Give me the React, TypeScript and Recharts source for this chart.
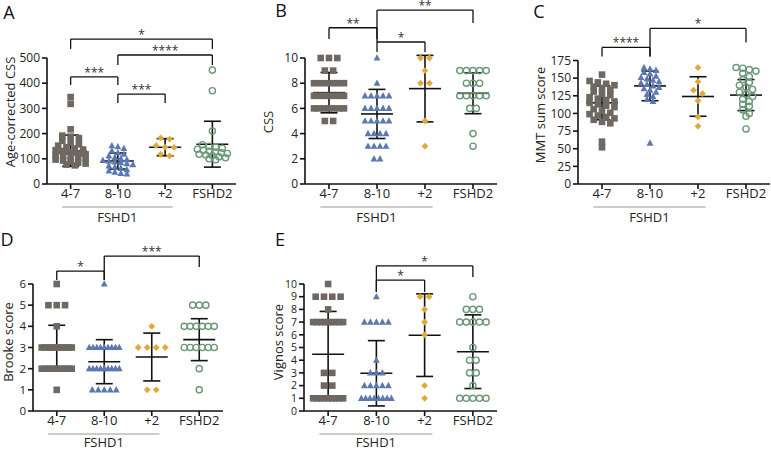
import React from "react";
import { ScatterChart, Scatter, XAxis, YAxis, ReferenceLine } from "recharts";

const groups = ["4-7", "8-10", "+2", "FSHD2"];

// A: age-corrected CSS
const aRepeat47 = [345, 318, 217, 192, 188, 182, 172, 165, 158, 152, 146, 141, 137, 134, 131, 128, 125, 121, 118, 115, 112, 109, 105, 101, 97, 93, 89, 85, 81, 77, 74];
const aRepeat810 = [152, 148, 141, 132, 124, 118, 112, 106, 101, 97, 94, 91, 88, 85, 81, 77, 72, 67, 62, 57, 52, 47, 42, 40];
const aPlus2 = [183, 178, 152, 146, 145, 118, 112];
const aFshd2 = [452, 370, 210, 156, 150, 146, 142, 138, 134, 130, 127, 124, 121, 118, 115, 112, 108, 104, 100, 96];
const aMean = [132, 91, 146, 158];
const aSd = [62, 32, 34, 91];

// B: CSS
const bRepeat47 = [10, 10, 10, 9, 9, 8, 8, 8, 8, 8, 8, 7, 7, 7, 7, 7, 7, 7, 7, 6, 6, 6, 6, 6, 6, 6, 5, 5];
const bRepeat810 = [10, 8, 7, 7, 7, 7, 7, 6, 6, 6, 6, 6, 5, 5, 5, 5, 5, 4, 4, 4, 4, 3, 3, 3, 3, 2, 2];
const bPlus2 = [10, 10, 9, 8, 8, 5, 3];
const bFshd2 = [9, 9, 9, 9, 9, 8, 8, 8, 7, 7, 7, 7, 7, 6, 6, 4, 3];
const bMean = [7.25, 5.56, 7.57, 7.2];
const bSd = [1.6, 1.95, 2.64, 1.62];

// C: MMT sum score
const cRepeat47 = [155, 146, 144, 142, 140, 138, 136, 133, 131, 128, 126, 123, 121, 119, 117, 115, 113, 111, 109, 106, 104, 101, 99, 97, 95, 93, 91, 88, 86, 60, 52];
const cRepeat810 = [165, 163, 161, 158, 156, 153, 151, 149, 147, 145, 143, 141, 139, 137, 135, 133, 130, 127, 124, 120, 117, 58];
const cPlus2 = [165, 145, 133, 128, 118, 95, 82];
const cFshd2 = [165, 164, 162, 160, 157, 152, 148, 144, 140, 137, 134, 130, 127, 124, 120, 117, 113, 110, 105, 100, 96, 78];
const cMean = [115, 139, 124, 126];
const cSd = [24, 21, 28, 22];

// D: Brooke score
const dRepeat47 = [6, 5, 5, 5, 4, 3, 3, 3, 3, 3, 3, 3, 3, 3, 3, 2, 2, 2, 2, 2, 2, 2, 2, 2, 1];
const dRepeat810 = [6, 3, 3, 3, 3, 3, 3, 3, 3, 3, 2, 2, 2, 2, 2, 2, 2, 2, 2, 1, 1, 1, 1, 1];
const dPlus2 = [4, 3, 3, 3, 3, 1, 1];
const dFshd2 = [5, 5, 5, 4, 4, 4, 4, 4, 4, 3, 3, 3, 3, 3, 3, 2, 1];
const dMean = [3.0, 2.33, 2.55, 3.37];
const dSd = [1.05, 1.04, 1.13, 0.99];

// E: Vignos score
const eRepeat47 = [10, 9, 9, 9, 9, 8, 7, 7, 7, 7, 7, 7, 7, 7, 7, 3, 3, 2, 2, 1, 1, 1, 1, 1, 1, 1, 1, 1];
const eRepeat810 = [9, 7, 7, 7, 7, 7, 4, 3, 3, 3, 2, 2, 2, 2, 2, 1, 1, 1, 1, 1, 1, 1, 1];
const ePlus2 = [9, 9, 8, 7, 6, 2, 1];
const eFshd2 = [9, 8, 8, 8, 7, 7, 7, 7, 7, 5, 4, 4, 3, 3, 2, 1, 1, 1, 1, 1];
const eMean = [4.47, 2.97, 5.97, 4.67];
const eSd = [3.37, 2.57, 3.25, 2.9];

// significance brackets: group a to b, bar level, drop ends
const aSig = [
  { a: 1, b: 4, y: 575, ya: 536, yb: 536, t: "*" },
  { a: 2, b: 4, y: 512, ya: 472, yb: 472, t: "****" },
  { a: 1, b: 2, y: 425, ya: 393, yb: 393, t: "***" },
  { a: 2, b: 3, y: 357, ya: 321, yb: 321, t: "***" },
];
const bSig = [
  { a: 2, b: 4, y: 13.8, ya: 11.27, yb: 12.78, t: "**" },
  { a: 1, b: 2, y: 12.4, ya: 11.5, yb: 11.5, t: "**" },
  { a: 2, b: 3, y: 11.27, ya: 10.48, yb: 10.48, t: "*" },
];
const cSig = [
  { a: 2, b: 4, y: 220.5, ya: 180.7, yb: 200.6, t: "*" },
  { a: 1, b: 2, y: 193.5, ya: 180.7, yb: 180.7, t: "****" },
];
const dSig = [
  { a: 2, b: 4, y: 7.32, ya: 6.19, yb: 6.8, t: "***" },
  { a: 1, b: 2, y: 6.61, ya: 6.19, yb: 6.19, t: "*" },
];
const eSig = [
  { a: 2, b: 4, y: 11.42, ya: 9.37, yb: 10.55, t: "*" },
  { a: 2, b: 3, y: 10.31, ya: 9.37, yb: 9.37, t: "*" },
];

const COLORS = ["#6e6862", "#5b78b0", "#e1a93b", "#6a9877"];
const GAPS = [8.3, 6, 9, 6.6];
const FONT = "'Open Sans', 'DejaVu Sans', sans-serif";

const Square = (p: any) => <rect x={p.cx - 3.3} y={p.cy - 3.3} width={6.6} height={6.6} fill={COLORS[0]} />;
const Triangle = (p: any) => (
  <polygon points={`${p.cx},${p.cy - 3.8} ${p.cx + 3.4},${p.cy + 2.6} ${p.cx - 3.4},${p.cy + 2.6}`} fill={COLORS[1]} />
);
const Diamond = (p: any) => (
  <polygon points={`${p.cx},${p.cy - 3.4} ${p.cx + 3.4},${p.cy} ${p.cx},${p.cy + 3.4} ${p.cx - 3.4},${p.cy}`} fill={COLORS[2]} />
);
const Ring = (p: any) => <circle cx={p.cx} cy={p.cy} r={3.1} fill="none" stroke={COLORS[3]} strokeWidth={1.4} />;
const SHAPES = [Square, Triangle, Diamond, Ring];

// simple Prism-like spread: points within a few px share a row, rows are centred
function spread(values: number[], center: number, pxY: number, pxX: number, gap: number) {
  const sorted = [...values].sort((a, b) => b - a);
  const rows: number[][] = [];
  for (const v of sorted) {
    const row = rows[rows.length - 1];
    if (row && (row[0] - v) * pxY < 4.5) row.push(v);
    else rows.push([v]);
  }
  const out: { x: number; y: number }[] = [];
  rows.forEach((row) => {
    const n = row.length;
    const g = n > 1 ? Math.min(gap, 30 / (n - 1)) : 0;
    row.forEach((v, i) => out.push({ x: center + ((i - (n - 1) / 2) * g) / pxX, y: v }));
  });
  return out;
}

const panels = [
  { key: "A", left: 0, top: 0, width: 257, height: 226, yw: 47, mr: 21, pt: 58, pb: 184, yMax: 500, ticks: [0, 100, 200, 300, 400, 500], tf: 12, lo: 6, sets: [aRepeat47, aRepeat810, aPlus2, aFshd2], mean: aMean, sd: aSd, sig: aSig, title: "Age-corrected CSS", tx: 10, ty: 112, lx: 9, ly: 12 },
  { key: "B", left: 257, top: 0, width: 257, height: 226, yw: 48, mr: 17, pt: 58, pb: 184, yMax: 10, ticks: [0, 2, 4, 6, 8, 10], tf: 12, lo: 6, sets: [bRepeat47, bRepeat810, bPlus2, bFshd2], mean: bMean, sd: bSd, sig: bSig, title: "CSS", tx: 11, ty: 122, lx: 24, ly: 10 },
  { key: "C", left: 514, top: 0, width: 257, height: 226, yw: 64, mr: 1, pt: 60.5, pb: 184, yMax: 175, ticks: [0, 25, 50, 75, 100, 125, 150, 175], tf: 12, lo: 6, sets: [cRepeat47, cRepeat810, cPlus2, cFshd2], mean: cMean, sd: cSd, sig: cSig, title: "MMT sum score", tx: 26, ty: 115, lx: 25, ly: 11 },
  { key: "D", left: 0, top: 226, width: 257, height: 225, yw: 33, mr: 34, pt: 58, pb: 185, yMax: 6, ticks: [0, 1, 2, 3, 4, 5, 6], tf: 11.5, lo: 4, sets: [dRepeat47, dRepeat810, dPlus2, dFshd2], mean: dMean, sd: dSd, sig: dSig, title: "Brooke score", tx: 8, ty: 116, lx: 7, ly: 13 },
  { key: "E", left: 257, top: 226, width: 257, height: 225, yw: 47, mr: 17, pt: 58, pb: 185, yMax: 10, ticks: [0, 1, 2, 3, 4, 5, 6, 7, 8, 9, 10], tf: 10.5, lo: 4, sets: [eRepeat47, eRepeat810, ePlus2, eFshd2], mean: eMean, sd: eSd, sig: eSig, title: "Vignos score", tx: 21, ty: 116, lx: 23, ly: 13 },
];

const line = { stroke: "#111", strokeWidth: 1.6 };

function Panel({ p }: { p: (typeof panels)[number] }) {
  const plotW = p.width - p.yw - p.mr;
  const pxX = plotW / 4;
  const pxY = (p.pb - p.pt) / p.yMax;
  const meanHalf = 16 / pxX;
  const capHalf = 8.5 / pxX;
  const under = -23 / pxY;
  return (
    <div style={{ position: "absolute", left: p.left, top: p.top }}>
      <ScatterChart width={p.width} height={p.height} margin={{ top: p.pt, right: p.mr, left: 0, bottom: p.height - p.pb - 20 }}>
        <XAxis
          type="number"
          dataKey="x"
          domain={[0.5, 4.5]}
          ticks={[1, 2, 3, 4]}
          interval={0}
          height={20}
          tickFormatter={(v) => groups[Math.round(v) - 1]}
          tick={{ fontSize: 13, fill: "#222", fontFamily: FONT }}
          tickSize={5}
          tickMargin={0}
          axisLine={line}
          tickLine={line}
        />
        <YAxis
          type="number"
          dataKey="y"
          domain={[0, p.yMax]}
          ticks={p.ticks}
          interval={0}
          width={p.yw}
          tick={{ fontSize: p.tf, fill: "#222", fontFamily: FONT }}
          tickSize={5}
          tickMargin={2}
          axisLine={line}
          tickLine={line}
        />
        {p.sets.map((vals, i) => (
          <Scatter
            key={i}
            data={spread(vals, i + 1, pxY, pxX, GAPS[i])}
            shape={SHAPES[i]}
            isAnimationActive={false}
          />
        ))}
        {p.mean.map((m, i) => (
          <ReferenceLine key={`m${i}`} segment={[{ x: i + 1 - meanHalf, y: m }, { x: i + 1 + meanHalf, y: m }]} ifOverflow="visible" {...line} />
        ))}
        {p.mean.map((m, i) => (
          <ReferenceLine key={`v${i}`} segment={[{ x: i + 1, y: m - p.sd[i] }, { x: i + 1, y: m + p.sd[i] }]} ifOverflow="visible" {...line} />
        ))}
        {p.mean.map((m, i) => (
          <ReferenceLine key={`u${i}`} segment={[{ x: i + 1 - capHalf, y: m + p.sd[i] }, { x: i + 1 + capHalf, y: m + p.sd[i] }]} ifOverflow="visible" {...line} />
        ))}
        {p.mean.map((m, i) => (
          <ReferenceLine key={`l${i}`} segment={[{ x: i + 1 - capHalf, y: m - p.sd[i] }, { x: i + 1 + capHalf, y: m - p.sd[i] }]} ifOverflow="visible" {...line} />
        ))}
        {p.sig.map((s, i) => (
          <ReferenceLine
            key={`s${i}`}
            segment={[{ x: s.a, y: s.y }, { x: s.b, y: s.y }]}
            ifOverflow="visible"
            stroke="#111"
            strokeWidth={1.3}
            label={{ value: s.t, position: "top", offset: 0, fontSize: 12, fill: "#333", fontFamily: FONT }}
          />
        ))}
        {p.sig.map((s, i) => (
          <ReferenceLine key={`sa${i}`} segment={[{ x: s.a, y: s.y }, { x: s.a, y: s.ya }]} ifOverflow="visible" stroke="#111" strokeWidth={1.3} />
        ))}
        {p.sig.map((s, i) => (
          <ReferenceLine key={`sb${i}`} segment={[{ x: s.b, y: s.y }, { x: s.b, y: s.yb }]} ifOverflow="visible" stroke="#111" strokeWidth={1.3} />
        ))}
        <ReferenceLine
          segment={[{ x: 0.82, y: under }, { x: 3.16, y: under }]}
          ifOverflow="visible"
          stroke="#999"
          strokeWidth={1.2}
          label={{ value: "FSHD1", position: "bottom", offset: p.lo, fontSize: 13, fill: "#222", fontFamily: FONT }}
        />
      </ScatterChart>
      <svg width={p.width} height={p.height} style={{ position: "absolute", left: 0, top: 0, pointerEvents: "none" }}>
        <text x={p.lx} y={p.ly} fontSize={18} fontFamily={FONT} fill="#111" textAnchor="middle" dominantBaseline="central">
          {p.key}
        </text>
        <text
          x={p.tx}
          y={p.ty}
          fontSize={13}
          fontFamily={FONT}
          fill="#222"
          textAnchor="middle"
          dominantBaseline="central"
          transform={`rotate(-90 ${p.tx} ${p.ty})`}
        >
          {p.title}
        </text>
      </svg>
    </div>
  );
}

export default function App() {
  return (
    <div style={{ position: "absolute", left: 0, top: 0, width: 771, height: 451, background: "#fff" }}>
      {panels.map((p) => (
        <Panel key={p.key} p={p} />
      ))}
    </div>
  );
}
